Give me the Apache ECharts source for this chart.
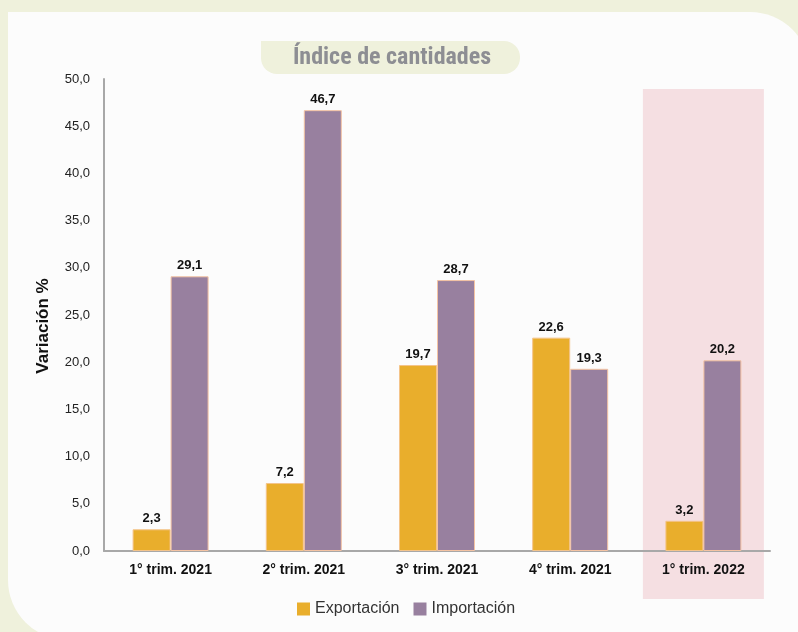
<!DOCTYPE html>
<html><head><meta charset="utf-8">
<script src="https://cdn.jsdelivr.net/npm/echarts@6/dist/echarts.min.js"></script>
<style>html,body{margin:0;padding:0;background:#eff1dc;}#c{width:798px;height:632px;}</style>
</head><body><div id="c"></div>
<script>
const categories = ['1° trim. 2021', '2° trim. 2021', '3° trim. 2021', '4° trim. 2021', '1° trim. 2022'];
const exportacion = [2.3, 7.2, 19.7, 22.6, 3.2];
const importacion = [29.1, 46.7, 28.7, 19.3, 20.2];
const seriesNames = ['Exportación', 'Importación'];
const titleText = 'Índice de cantidades';
const yAxisName = 'Variación %';
const highlightIndex = 4;

const fmt = v => v.toFixed(1).replace('.', ',');
const FONT = '"Liberation Sans", Arial, Helvetica, sans-serif';

const chart = echarts.init(document.getElementById('c'), null, {renderer: 'canvas'});
const bgGraphics = [
  {type: 'rect', z: -20, silent: true, shape: {x: 0, y: 0, width: 798, height: 632}, style: {fill: '#eff1dc'}},
  {type: 'rect', z: -19, silent: true, shape: {x: 8, y: 12, width: 802, height: 628, r: [0, 60, 0, 60]}, style: {fill: '#fcfcfc'}},
  {type: 'rect', z: 5, silent: true, shape: {x: 261, y: 41, width: 259, height: 33, r: [0, 16, 16, 16]}, style: {fill: '#eff1dc'}},
  {type: 'text', z: 6, silent: true, x: 392, y: 58, style: {text: titleText, fill: '#8d8e93', font: 'bold 24px "Roboto Condensed", "Liberation Sans Narrow", "Liberation Sans", sans-serif', textAlign: 'center', textVerticalAlign: 'middle'}}
];

const lbl = {show: true, position: 'top', distance: 4, color: '#111', fontWeight: 'bold', fontSize: 13, fontFamily: FONT, formatter: p => fmt(p.value)};

chart.setOption({
  animation: false,
  backgroundColor: 'transparent',
  textStyle: {fontFamily: FONT},
  grid: {left: 104, top: 79, right: 28, bottom: 81},
  legend: {
    bottom: 10, left: 292, itemWidth: 13, itemHeight: 13, itemGap: 14,
    icon: 'rect', itemStyle: {borderWidth: 0},
    textStyle: {fontSize: 16, color: '#333', fontFamily: FONT},
    data: seriesNames
  },
  xAxis: {
    type: 'category', data: categories,
    axisLine: {lineStyle: {color: '#a8a8a8', width: 2}},
    axisTick: {show: false},
    axisLabel: {color: '#111', fontWeight: 'bold', fontSize: 14, margin: 12, fontFamily: FONT}
  },
  yAxis: {
    type: 'value', min: 0, max: 50, interval: 5,
    name: yAxisName, nameLocation: 'middle', nameGap: 52, nameRotate: 90,
    nameTextStyle: {fontWeight: 'bold', fontSize: 17, color: '#111', fontFamily: FONT, padding: [0, 22, 0, 0]},
    axisLine: {show: true, lineStyle: {color: '#a8a8a8', width: 2}},
    axisTick: {show: false},
    splitLine: {show: false},
    axisLabel: {color: '#222', fontSize: 13, margin: 14, fontFamily: FONT, formatter: v => fmt(v)}
  },
  series: [
    {name: seriesNames[0], type: 'bar', data: exportacion, barWidth: 38, barGap: '0%',
     itemStyle: {color: '#e9ae2c', borderColor: '#f4c48a', borderWidth: 1}, label: lbl},
    {name: seriesNames[1], type: 'bar', data: importacion, barWidth: 38, barGap: '0%',
     itemStyle: {color: '#98809f', borderColor: '#f4c3a3', borderWidth: 1}, label: lbl}
  ],
  graphic: bgGraphics
});

// highlight band for the last category, computed from the axis scale
const cx = chart.convertToPixel({xAxisIndex: 0}, categories[highlightIndex]);
const yTop = chart.convertToPixel({yAxisIndex: 0}, 50);
const yBot = chart.convertToPixel({yAxisIndex: 0}, 0);
chart.setOption({
  graphic: bgGraphics.concat([
    {type: 'rect', z: -10, silent: true, shape: {x: cx - 60.5, y: yTop + 10, width: 121, height: (yBot - yTop) + 38}, style: {fill: '#f5dfe2'}}
  ])
});
</script>
</body></html>
